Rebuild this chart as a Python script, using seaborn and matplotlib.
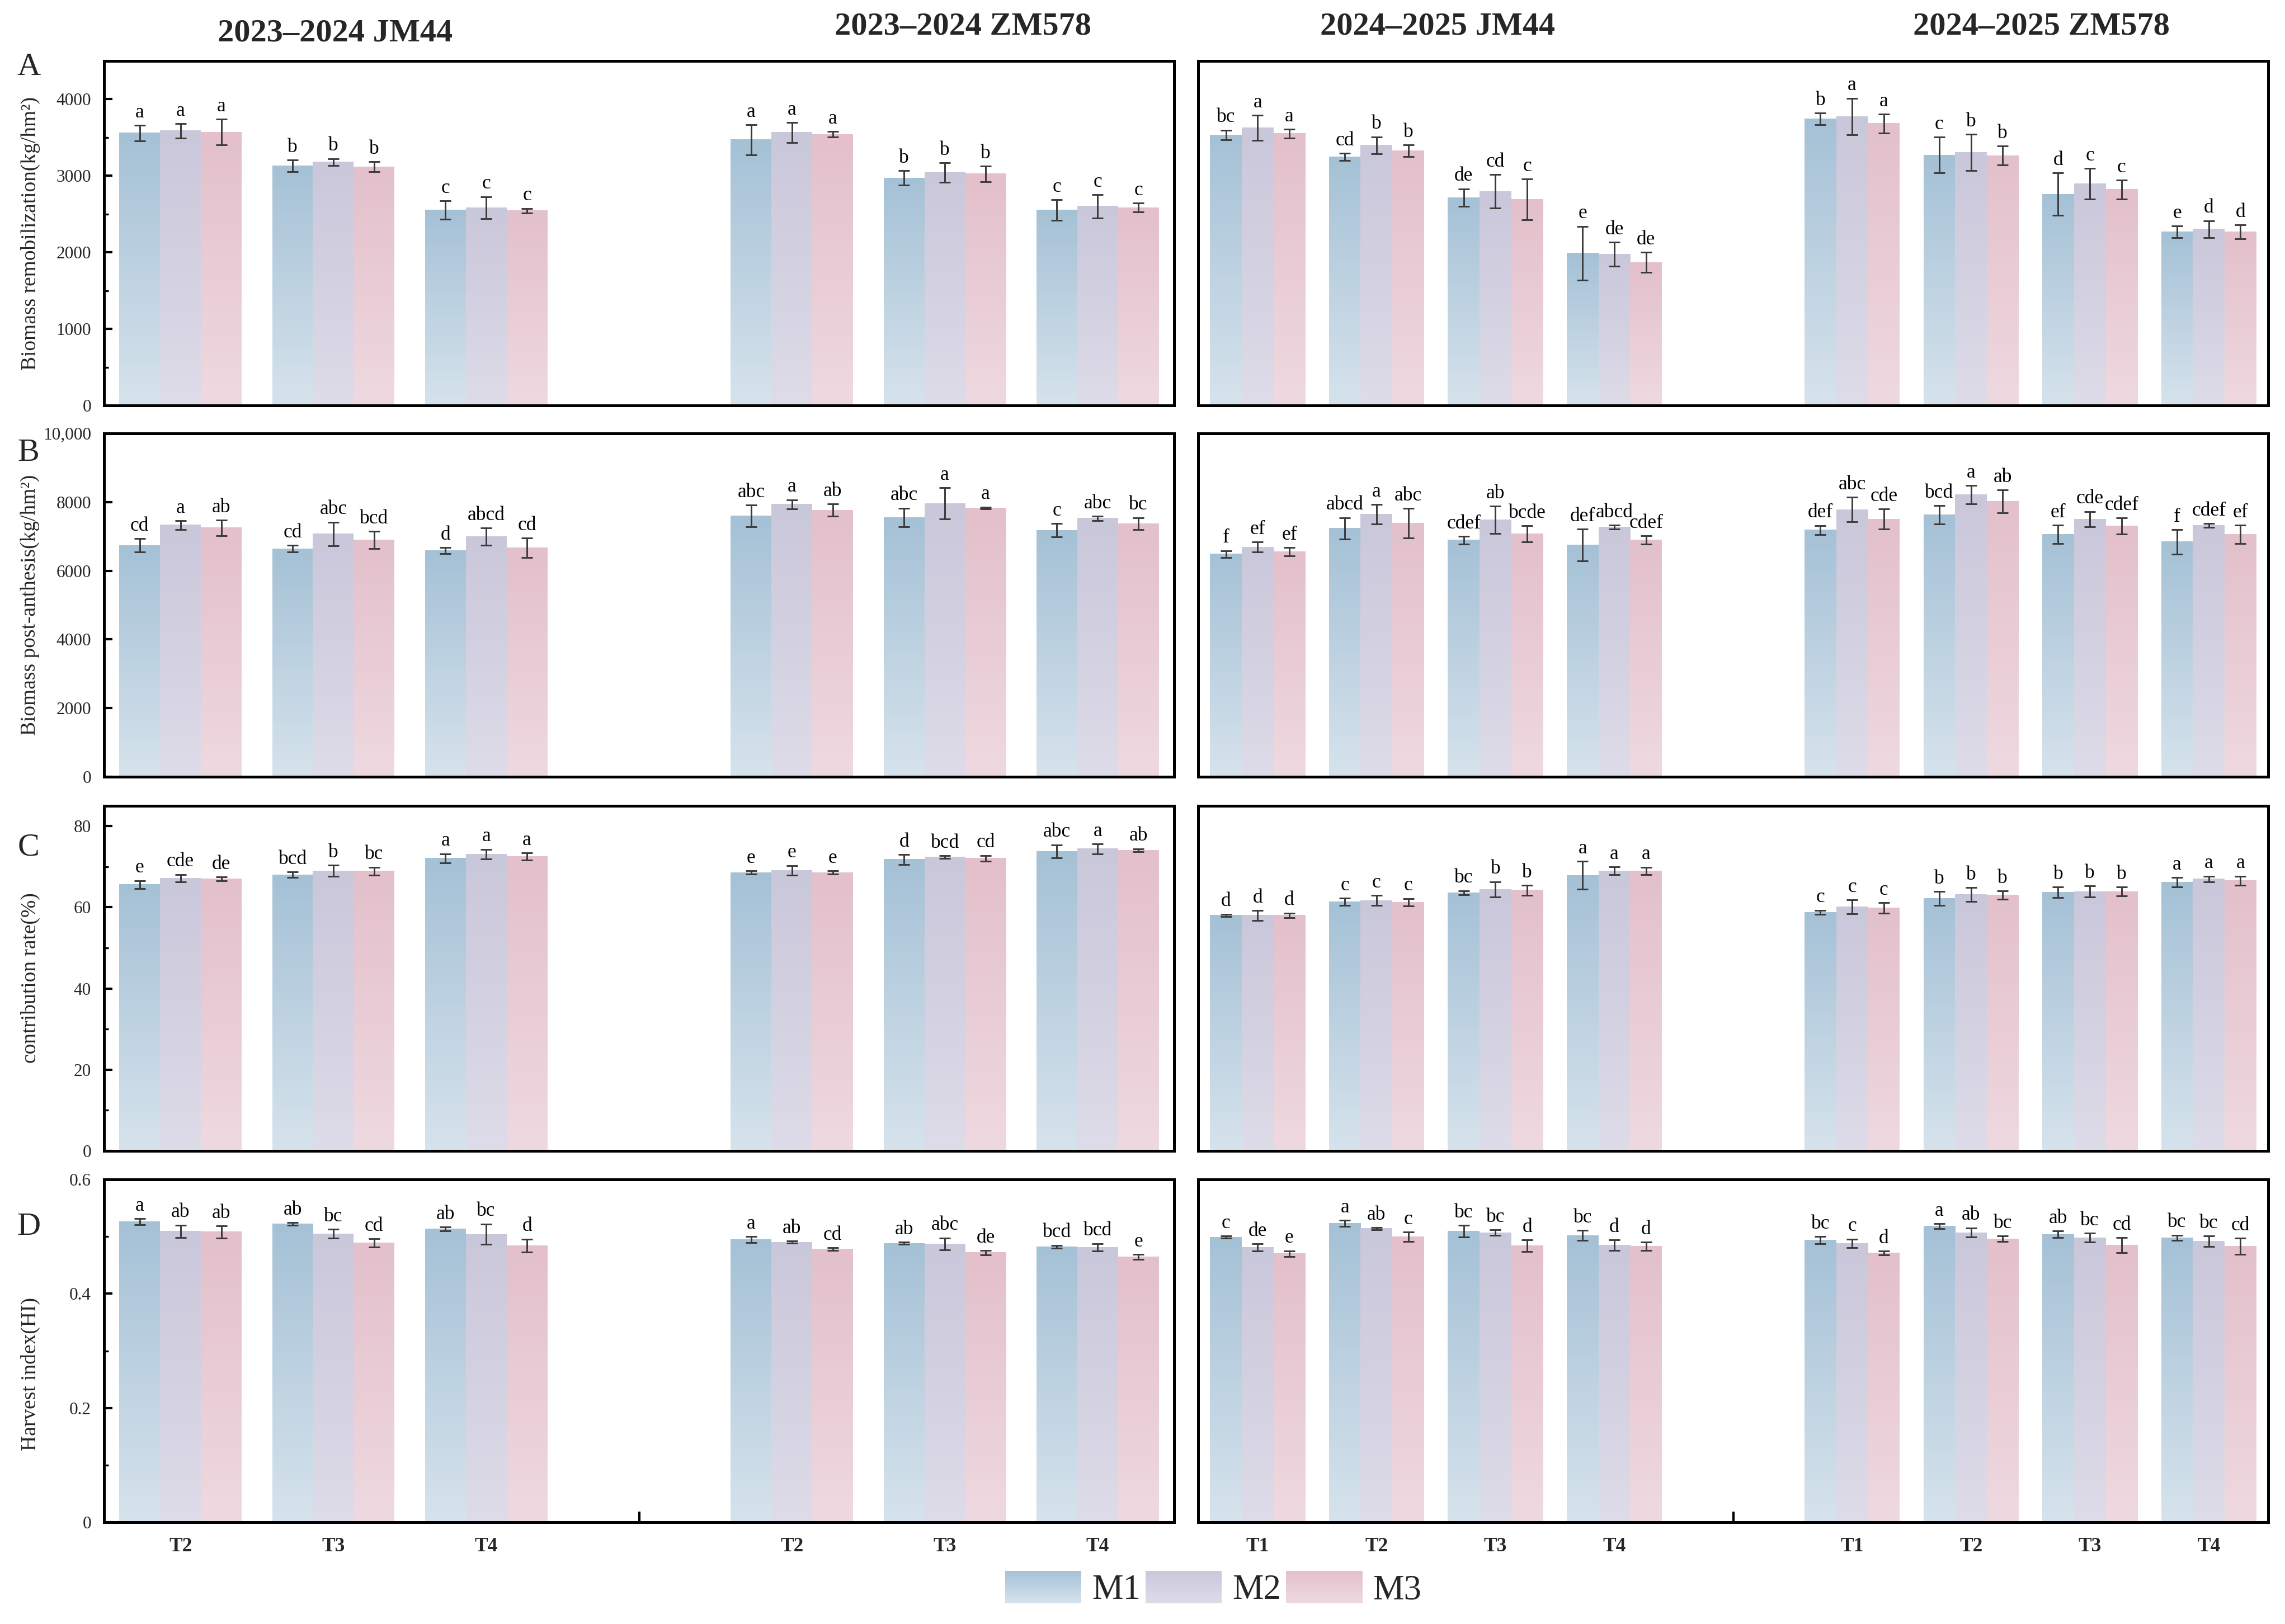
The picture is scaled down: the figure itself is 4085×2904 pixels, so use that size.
import numpy as np
import pandas as pd
import matplotlib
matplotlib.use("Agg")
import matplotlib.pyplot as plt
import seaborn as sns
from matplotlib.colors import LinearSegmentedColormap, to_rgb
from matplotlib.patches import Rectangle, Patch
from matplotlib.legend_handler import HandlerBase
from matplotlib.ticker import MultipleLocator, FixedLocator, FuncFormatter

sns.set_style("white")
plt.rcParams["font.family"] = ["Liberation Serif", "DejaVu Serif"]
plt.rcParams["xtick.bottom"] = True
plt.rcParams["ytick.left"] = True

# ---------------- data ----------------
MULCH = ["M1", "M2", "M3"]
TOP = {"M1": "#a5c1d6", "M2": "#c9c7da", "M3": "#e3c0cb"}
BOTTOM = {"M1": "#d6e3ec", "M2": "#dedce8", "M3": "#efd9e0"}

cats_2324 = ["JM44 T2", "JM44 T3", "JM44 T4", "ZM578 T2", "ZM578 T3", "ZM578 T4"]
order_2324 = ["JM44 T2", "JM44 T3", "JM44 T4", "gap", "ZM578 T2", "ZM578 T3", "ZM578 T4"]
ticks_2324 = ["T2", "T3", "T4", "", "T2", "T3", "T4"]

cats_2425 = ["JM44 T1", "JM44 T2", "JM44 T3", "JM44 T4",
             "ZM578 T1", "ZM578 T2", "ZM578 T3", "ZM578 T4"]
order_2425 = ["JM44 T1", "JM44 T2", "JM44 T3", "JM44 T4", "gap",
              "ZM578 T1", "ZM578 T2", "ZM578 T3", "ZM578 T4"]
ticks_2425 = ["T1", "T2", "T3", "T4", "", "T1", "T2", "T3", "T4"]

# A  Biomass remobilization (kg/hm2)
remob_2324_mean = {"M1": [3558, 3131, 2551, 3470, 2972, 2551],
                   "M2": [3587, 3180, 2583, 3565, 3042, 2601],
                   "M3": [3569, 3117, 2544, 3541, 3025, 2583]}
remob_2324_sd = {"M1": [99, 74, 120, 194, 97, 136],
                 "M2": [92, 44, 145, 129, 130, 152],
                 "M3": [168, 67, 30, 35, 100, 58]}
remob_2324_let = {"M1": ["a", "b", "c", "a", "b", "c"],
                  "M2": ["a", "b", "c", "a", "b", "c"],
                  "M3": ["a", "b", "c", "a", "b", "c"]}
remob_2425_mean = {"M1": [3534, 3247, 2714, 1989, 3746, 3272, 2760, 2269],
                   "M2": [3629, 3399, 2795, 1975, 3774, 3304, 2894, 2304],
                   "M3": [3551, 3325, 2693, 1869, 3682, 3265, 2820, 2269]}
remob_2425_sd = {"M1": [62, 46, 115, 351, 76, 233, 277, 76],
                 "M2": [163, 110, 219, 155, 240, 237, 200, 110],
                 "M3": [58, 76, 267, 134, 124, 124, 125, 92]}
remob_2425_let = {"M1": ["bc", "cd", "de", "e", "b", "c", "d", "e"],
                  "M2": ["a", "b", "cd", "de", "a", "b", "c", "d"],
                  "M3": ["a", "b", "c", "de", "a", "b", "c", "d"]}

# B  Biomass post-anthesis (kg/hm2)
post_2324_mean = {"M1": [6742, 6643, 6586, 7597, 7555, 7180],
                  "M2": [7329, 7074, 6989, 7936, 7957, 7526],
                  "M3": [7251, 6897, 6671, 7767, 7830, 7371]}
post_2324_sd = {"M1": [195, 103, 95, 315, 269, 201],
                "M2": [131, 343, 251, 131, 456, 60],
                "M3": [226, 254, 283, 173, 25, 177]}
post_2324_let = {"M1": ["cd", "cd", "d", "abc", "abc", "c"],
                 "M2": ["a", "abc", "abcd", "a", "a", "abc"],
                 "M3": ["ab", "bcd", "cd", "ab", "a", "bc"]}
post_2425_mean = {"M1": [6487, 7237, 6890, 6756, 7187, 7632, 7060, 6841],
                  "M2": [6692, 7647, 7484, 7272, 7781, 8219, 7505, 7321],
                  "M3": [6551, 7385, 7074, 6897, 7505, 8021, 7307, 7060]}
post_2425_sd = {"M1": [99, 311, 110, 463, 131, 269, 269, 353],
                "M2": [145, 279, 392, 60, 360, 269, 219, 60],
                "M3": [124, 428, 233, 117, 297, 332, 237, 272]}
post_2425_let = {"M1": ["f", "abcd", "cdef", "def", "def", "bcd", "ef", "f"],
                 "M2": ["ef", "a", "ab", "abcd", "abc", "a", "cde", "cdef"],
                 "M3": ["ef", "abc", "bcde", "cdef", "cde", "ab", "cdef", "ef"]}

# C  contribution rate (%)
contr_2324_mean = {"M1": [65.6, 68.0, 72.1, 68.6, 71.8, 73.8],
                   "M2": [67.2, 69.0, 73.1, 69.1, 72.4, 74.4],
                   "M3": [67.0, 68.9, 72.5, 68.6, 72.1, 74.1]}
contr_2324_sd = {"M1": [1.0, 0.7, 1.1, 0.45, 1.2, 1.6],
                 "M2": [0.9, 1.4, 1.2, 1.2, 0.36, 1.2],
                 "M3": [0.5, 1.0, 0.9, 0.45, 0.7, 0.35]}
contr_2324_let = {"M1": ["e", "bcd", "a", "e", "d", "abc"],
                  "M2": ["cde", "b", "a", "e", "bcd", "a"],
                  "M3": ["de", "bc", "a", "e", "cd", "ab"]}
contr_2425_mean = {"M1": [58.0, 61.4, 63.6, 67.9, 58.8, 62.2, 63.7, 66.2],
                   "M2": [58.0, 61.7, 64.4, 69.0, 60.1, 63.2, 63.9, 67.0],
                   "M3": [58.0, 61.3, 64.2, 69.0, 59.9, 63.0, 63.9, 66.6]}
contr_2425_sd = {"M1": [0.33, 0.9, 0.5, 3.4, 0.5, 1.7, 1.3, 1.15],
                 "M2": [1.25, 1.25, 1.9, 1.0, 1.7, 1.7, 1.4, 0.7],
                 "M3": [0.6, 0.9, 1.2, 0.9, 1.3, 1.05, 1.1, 1.1]}
contr_2425_let = {"M1": ["d", "c", "bc", "a", "c", "b", "b", "a"],
                  "M2": ["d", "c", "b", "a", "c", "b", "b", "a"],
                  "M3": ["d", "c", "b", "a", "c", "b", "b", "a"]}

# D  Harvest index (HI)
hi_2324_mean = {"M1": [0.526, 0.522, 0.513, 0.495, 0.488, 0.482],
                "M2": [0.509, 0.505, 0.504, 0.490, 0.487, 0.481],
                "M3": [0.508, 0.489, 0.484, 0.478, 0.472, 0.464]}
hi_2324_sd = {"M1": [0.005, 0.0026, 0.0034, 0.0054, 0.002, 0.0028],
              "M2": [0.011, 0.0077, 0.018, 0.002, 0.0105, 0.0067],
              "M3": [0.011, 0.007, 0.0116, 0.0026, 0.0039, 0.0044]}
hi_2324_let = {"M1": ["a", "ab", "ab", "a", "ab", "bcd"],
               "M2": ["ab", "bc", "bc", "ab", "abc", "bcd"],
               "M3": ["ab", "cd", "d", "cd", "de", "e"]}
hi_2425_mean = {"M1": [0.499, 0.523, 0.509, 0.502, 0.494, 0.518, 0.504, 0.498],
                "M2": [0.481, 0.514, 0.507, 0.485, 0.488, 0.507, 0.498, 0.492],
                "M3": [0.470, 0.500, 0.484, 0.483, 0.471, 0.496, 0.485, 0.483]}
hi_2425_sd = {"M1": [0.002, 0.0057, 0.0103, 0.009, 0.0062, 0.0046, 0.006, 0.0046],
              "M2": [0.0064, 0.002, 0.005, 0.0095, 0.0077, 0.0082, 0.0077, 0.009],
              "M3": [0.005, 0.0082, 0.0103, 0.007, 0.0036, 0.005, 0.0129, 0.0144]}
hi_2425_let = {"M1": ["c", "a", "bc", "bc", "bc", "a", "ab", "bc"],
               "M2": ["de", "ab", "bc", "d", "c", "ab", "bc", "bc"],
               "M3": ["e", "c", "d", "d", "d", "bc", "cd", "cd"]}

row_ylabels = ["Biomass remobilization(kg/hm²)", "Biomass post-anthesis(kg/hm²)",
               "contribution rate(%)", "Harvest index(HI)"]
row_letters = ["A", "B", "C", "D"]
titles = ["2023–2024 JM44", "2023–2024 ZM578", "2024–2025 JM44", "2024–2025 ZM578"]


def make_df(cats, means, sds, letters):
    rows = []
    for m in MULCH:
        for c, v, s, l in zip(cats, means[m], sds[m], letters[m]):
            rows.append(dict(cat=c, M=m, value=v, sd=s, letter=l))
    return pd.DataFrame(rows)


GRAD = np.linspace(0, 1, 256).reshape(-1, 1)


def draw(ax, df, order, ticklabels, ylim):
    sns.barplot(data=df, x="cat", y="value", hue="M", order=order,
                hue_order=MULCH, palette=TOP, errorbar=None, width=0.8,
                linewidth=0, saturation=1, legend=False, ax=ax)
    lookup = {(r.M, r.cat): r for r in df.itertuples()}
    for m, cont in zip(MULCH, ax.containers):
        cmap = LinearSegmentedColormap.from_list(m, [BOTTOM[m], TOP[m]])
        for bar in cont:
            h = bar.get_height()
            if h is None or not np.isfinite(h) or h == 0:
                continue
            x0, w = bar.get_x(), bar.get_width()
            cx = x0 + w / 2
            cat = order[int(round(cx))]
            r = lookup[(m, cat)]
            bar.set_facecolor("none")
            ax.imshow(GRAD, extent=[x0, x0 + w, 0, h], aspect="auto", cmap=cmap,
                      origin="lower", zorder=1, interpolation="bilinear")
            ax.errorbar(cx, h, yerr=r.sd, fmt="none", ecolor="#3a3a3a",
                        elinewidth=0.7, capsize=2.5, capthick=0.7, zorder=3)
            ax.annotate(r.letter, (cx, h + r.sd), xytext=(0, 1.5),
                        textcoords="offset points", ha="center", va="bottom",
                        fontsize=8.5, color="black", zorder=4)
    ax.set_xlim(-0.5, len(order) - 0.5)
    ax.set_ylim(*ylim)
    ax.set_xlabel("")
    ax.set_ylabel("")
    ax.set_xticks(range(len(order)))
    ax.set_xticklabels(ticklabels)
    for sp in ax.spines.values():
        sp.set_visible(True)
        sp.set_linewidth(1.2)
        sp.set_color("black")


W, H = 4085, 2904
fig = plt.figure(figsize=(W / 300, H / 300), dpi=300)

col_x = [186 / W, 2142 / W]
col_w = 1913 / W
rows_px = [(109, 725), (775, 1389), (1441, 2058), (2109, 2722)]

panels = [
    (remob_2324_mean, remob_2324_sd, remob_2324_let, remob_2425_mean, remob_2425_sd, remob_2425_let,
     (0, 4500), [0, 1000, 2000, 3000, 4000], 500, lambda v, p: f"{int(v)}"),
    (post_2324_mean, post_2324_sd, post_2324_let, post_2425_mean, post_2425_sd, post_2425_let,
     (0, 10000), [0, 2000, 4000, 6000, 8000, 10000], None,
     lambda v, p: "10,000" if v >= 10000 else f"{int(v)}"),
    (contr_2324_mean, contr_2324_sd, contr_2324_let, contr_2425_mean, contr_2425_sd, contr_2425_let,
     (0, 85), [0, 20, 40, 60, 80], 10, lambda v, p: f"{int(v)}"),
    (hi_2324_mean, hi_2324_sd, hi_2324_let, hi_2425_mean, hi_2425_sd, hi_2425_let,
     (0, 0.6), [0, 0.2, 0.4, 0.6], 0.1, lambda v, p: "0" if v == 0 else f"{v:.1f}"),
]

ylabel_y = [417, 1082, 1749, 2457]
letter_y = [120, 810, 1515, 2194]

for i, (m1, s1, l1, m2, s2, l2, ylim, yt, minor, fmt) in enumerate(panels):
    top, bot = rows_px[i]
    b = 1 - bot / H
    h = (bot - top) / H
    axL = fig.add_axes([col_x[0], b, col_w, h])
    axR = fig.add_axes([col_x[1], b, col_w, h])
    draw(axL, make_df(cats_2324, m1, s1, l1), order_2324, ticks_2324, ylim)
    draw(axR, make_df(cats_2425, m2, s2, l2), order_2425, ticks_2425, ylim)

    for ax in (axL, axR):
        ax.tick_params(axis="both", which="both", direction="in")
        if i == 3:
            ax.tick_params(axis="x", bottom=True, length=4.5, width=1.0, pad=6.5,
                           labelsize=8.5, color="black")
            for t in ax.get_xticklabels():
                t.set_fontweight("bold")
        else:
            ax.tick_params(axis="x", bottom=False, length=0, labelbottom=False)
    axL.yaxis.set_major_locator(FixedLocator(yt))
    axL.yaxis.set_major_formatter(FuncFormatter(fmt))
    if minor is not None:
        axL.yaxis.set_minor_locator(MultipleLocator(minor))
    axL.tick_params(axis="y", which="major", left=True, length=3.5, width=1.0,
                    pad=5.5, labelsize=7.5, color="black")
    axL.tick_params(axis="y", which="minor", left=True, length=2, width=0.8,
                    color="black")
    axR.tick_params(axis="y", which="both", left=False, labelleft=False)
    axR.set_ylim(*ylim)

    fig.text(54 / W, 1 - ylabel_y[i] / H, row_ylabels[i], rotation=90,
             ha="center", va="center", fontsize=9)
    fig.text(51 / W, 1 - letter_y[i] / H, row_letters[i], ha="center",
             va="center", fontsize=14)

title_pos = [(599, 60), (1721, 48), (2570, 47), (3649, 47)]
for t, (x, y) in zip(titles, title_pos):
    fig.text(x / W, 1 - y / H, t, ha="center", va="center", fontsize=14,
             fontweight="bold")


class GradHandler(HandlerBase):
    def __init__(self, top, bottom, n=40):
        super().__init__()
        self.top = np.array(to_rgb(top))
        self.bottom = np.array(to_rgb(bottom))
        self.n = n

    def create_artists(self, legend, orig_handle, xdescent, ydescent, width,
                       height, fontsize, trans):
        arts = []
        for k in range(self.n):
            f = k / (self.n - 1)
            c = self.bottom * (1 - f) + self.top * f
            r = Rectangle((-xdescent, -ydescent + k * height / self.n), width,
                          height / self.n * 1.08, facecolor=c, edgecolor="none",
                          transform=trans)
            arts.append(r)
        return arts


handles = [Patch(label=m) for m in MULCH]
hmap = {hd: GradHandler(TOP[m], BOTTOM[m]) for hd, m in zip(handles, MULCH)}
fig.legend(handles, MULCH, loc="center", bbox_to_anchor=(0.531, 0.0217), ncol=3,
           frameon=False, fontsize=15, handlelength=2.18, handleheight=1.07,
           handletextpad=0.3, columnspacing=0.15, handler_map=hmap)

fig.savefig("out.png", dpi=300)
